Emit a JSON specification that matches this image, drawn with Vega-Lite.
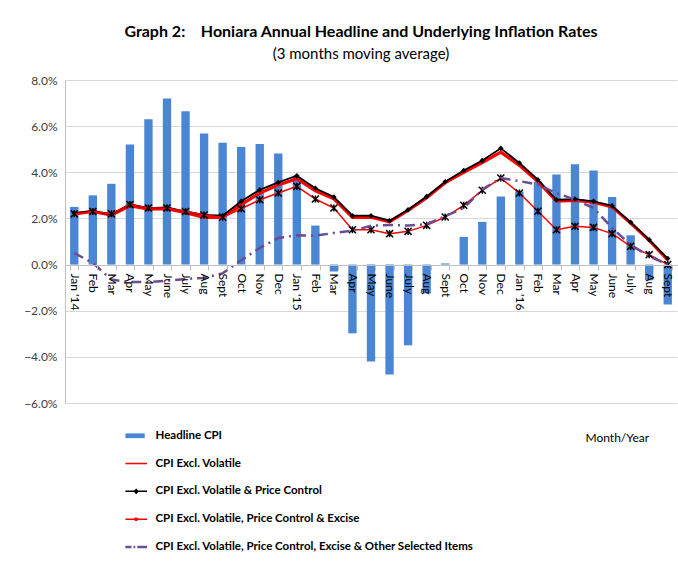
{
  "$schema": "https://vega.github.io/schema/vega-lite/v6.json",
  "width": 612,
  "height": 323,
  "autosize": "none",
  "padding": {"left": 65, "top": 80, "right": 1, "bottom": 164},
  "background": "white",
  "title": {
    "text": "Graph 2:\u00a0\u00a0\u00a0\u00a0Honiara Annual Headline and Underlying Inflation Rates",
    "subtitle": "(3 months moving average)",
    "anchor": "middle",
    "dx": -10,
    "offset": 12,
    "font": "Lato",
    "fontSize": 16,
    "fontWeight": "bold",
    "color": "#000000",
    "subtitleFont": "Lato",
    "subtitleFontSize": 15,
    "subtitleColor": "#000000",
    "subtitlePadding": 7
  },
  "config": {
    "view": {"stroke": null},
    "axis": {"labelFont": "Lato", "titleFont": "Lato"}
  },
  "data": {
    "values": [
      {"m": "Jan '14", "h": 2.5, "v": 2.2, "pc": 2.23, "ex": 2.2, "o": 0.5},
      {"m": "Feb '14", "h": 3.0, "v": 2.3, "pc": 2.33, "ex": 2.3, "o": 0.07},
      {"m": "Mar '14", "h": 3.5, "v": 2.15, "pc": 2.18, "ex": 2.2, "o": -0.65},
      {"m": "Apr '14", "h": 5.2, "v": 2.55, "pc": 2.62, "ex": 2.6, "o": -0.76},
      {"m": "May '14", "h": 6.3, "v": 2.4, "pc": 2.45, "ex": 2.45, "o": -0.76},
      {"m": "June '14", "h": 7.2, "v": 2.42, "pc": 2.48, "ex": 2.45, "o": -0.7},
      {"m": "July '14", "h": 6.65, "v": 2.25, "pc": 2.3, "ex": 2.3, "o": -0.62},
      {"m": "Aug '14", "h": 5.68, "v": 2.05, "pc": 2.15, "ex": 2.15, "o": -0.58},
      {"m": "Sept '14", "h": 5.28, "v": 2.05, "pc": 2.12, "ex": 2.05, "o": -0.38},
      {"m": "Oct '14", "h": 5.1, "v": 2.6, "pc": 2.74, "ex": 2.42, "o": 0.19},
      {"m": "Nov '14", "h": 5.23, "v": 3.1, "pc": 3.24, "ex": 2.81, "o": 0.72},
      {"m": "Dec '14", "h": 4.81, "v": 3.45, "pc": 3.56, "ex": 3.1, "o": 1.15},
      {"m": "Jan '15", "h": 3.8, "v": 3.72, "pc": 3.85, "ex": 3.39, "o": 1.27},
      {"m": "Feb '15", "h": 1.69, "v": 3.2, "pc": 3.31, "ex": 2.84, "o": 1.25},
      {"m": "Mar '15", "h": -0.3, "v": 2.85, "pc": 2.93, "ex": 2.45, "o": 1.37},
      {"m": "Apr '15", "h": -2.98, "v": 2.05, "pc": 2.12, "ex": 1.51, "o": 1.47},
      {"m": "May '15", "h": -4.2, "v": 2.05, "pc": 2.12, "ex": 1.51, "o": 1.68},
      {"m": "June '15", "h": -4.77, "v": 1.85, "pc": 1.9, "ex": 1.34, "o": 1.72},
      {"m": "July '15", "h": -3.5, "v": 2.35, "pc": 2.38, "ex": 1.44, "o": 1.69},
      {"m": "Aug '15", "h": -1.25, "v": 2.9, "pc": 2.95, "ex": 1.7, "o": 1.75},
      {"m": "Sept '15", "h": 0.05, "v": 3.55, "pc": 3.59, "ex": 2.06, "o": 2.1},
      {"m": "Oct '15", "h": 1.2, "v": 4.0, "pc": 4.08, "ex": 2.57, "o": 2.45},
      {"m": "Nov '15", "h": 1.85, "v": 4.42, "pc": 4.51, "ex": 3.22, "o": 3.25},
      {"m": "Dec '15", "h": 2.95, "v": 4.87, "pc": 5.04, "ex": 3.75, "o": 3.75},
      {"m": "Jan '16", "h": 3.17, "v": 4.3, "pc": 4.4, "ex": 3.1, "o": 3.62},
      {"m": "Feb '16", "h": 3.6, "v": 3.6, "pc": 3.68, "ex": 2.31, "o": 3.46},
      {"m": "Mar '16", "h": 3.9, "v": 2.75, "pc": 2.81, "ex": 1.51, "o": 3.1},
      {"m": "Apr '16", "h": 4.35, "v": 2.78, "pc": 2.84, "ex": 1.66, "o": 2.81},
      {"m": "May '16", "h": 4.08, "v": 2.7, "pc": 2.74, "ex": 1.61, "o": 2.45},
      {"m": "June '16", "h": 2.93, "v": 2.5, "pc": 2.55, "ex": 1.34, "o": 1.59},
      {"m": "July '16", "h": 1.27, "v": 1.8, "pc": 1.83, "ex": 0.79, "o": 0.86},
      {"m": "Aug '16", "h": -0.68, "v": 1.05, "pc": 1.08, "ex": 0.43, "o": 0.36},
      {"m": "Sept '16", "h": -1.73, "v": 0.2, "pc": 0.26, "ex": 0.0, "o": 0.0}
    ]
  },
  "encoding": {
    "x": {
      "field": "m",
      "type": "ordinal",
      "sort": null,
      "scale": {"paddingInner": 0.55, "paddingOuter": 0.275},
      "axis": {
        "offset": -138,
        "zindex": 1,
        "labelAngle": 90,
        "labelExpr": "indexof(datum.label, 'Jan') == 0 ? datum.label : split(datum.label, ' ')[0]",
        "labelFontSize": 12,
        "labelColor": "#000000",
        "labelPadding": 3,
        "tickBand": "extent",
        "tickSize": 5,
        "tickColor": "#bfbfbf",
        "domainColor": "#bfbfbf",
        "title": "Month/Year",
        "titleX": 520,
        "titleY": 172,
        "titleAlign": "left",
        "titleBaseline": "middle",
        "titleFontSize": 12,
        "titleFontWeight": "normal",
        "titleColor": "#000000"
      }
    }
  },
  "layer": [
    {
      "mark": {"type": "bar", "color": "#4A86D4"},
      "encoding": {
        "y": {
          "field": "h",
          "type": "quantitative",
          "scale": {"domain": [-6, 8], "nice": false},
          "axis": {
            "values": [-6, -4, -2, 0, 2, 4, 6, 8],
            "labelExpr": "format(datum.value, '.1f') + '%'",
            "labelFontSize": 12,
            "labelColor": "#404040",
            "labelPadding": 8,
            "ticks": false,
            "domainColor": "#bfbfbf",
            "gridColor": "#d9d9d9",
            "title": null
          }
        },
        "color": {
          "datum": "Headline CPI",
          "scale": {
            "domain": [
              "Headline CPI",
              "CPI Excl. Volatile",
              "CPI Excl. Volatile & Price Control",
              "CPI Excl. Volatile, Price Control & Excise",
              "CPI Excl. Volatile, Price Control, Excise & Other Selected Items"
            ],
            "range": ["#4A86D4", "#FF0000", "#000000", "#FF0000", "#6A4C93"]
          },
          "legend": {
            "orient": "none",
            "legendX": 60,
            "legendY": 350,
            "direction": "vertical",
            "title": null,
            "symbolSize": 784,
            "rowPadding": 14.8,
            "labelLimit": 0,
            "labelFont": "Lato",
            "labelFontSize": 11.5,
            "labelFontWeight": "bold",
            "labelColor": "#000000",
            "labelOffset": 19,
            "encode": {
              "symbols": {
                "update": {
                  "size": {"value": 784},
                  "shape": {"signal": "datum.value == 'Headline CPI' ? 'M-0.38,-0.17H1.0V0.17H-0.38Z' : datum.value == 'CPI Excl. Volatile' ? 'M-0.38,0H1.16' : datum.value == 'CPI Excl. Volatile & Price Control' ? 'M-0.38,0H1.16M0.39,-0.13L0.52,0L0.39,0.13L0.26,0Z' : datum.value == 'CPI Excl. Volatile, Price Control & Excise' ? 'M-0.38,0H1.16M0.29,-0.1L0.49,0.1M0.29,0.1L0.49,-0.1' : 'M-0.38,0H0.05M0.2,0H0.32M0.47,0H1.16'"},
                  "fill": {"scale": "color", "field": "value"},
                  "stroke": {"scale": "color", "field": "value"},
                  "fillOpacity": {"value": 1},
                  "strokeDash": {"value": []},
                  "strokeWidth": {"signal": "datum.value == 'Headline CPI' ? 0 : datum.value == 'CPI Excl. Volatile, Price Control, Excise & Other Selected Items' ? 2.5 : 1.5"}
                }
              }
            }
          }
        }
      }
    },
    {
      "mark": {"type": "line", "strokeWidth": 3.2},
      "encoding": {
        "y": {"field": "v", "type": "quantitative"},
        "color": {"datum": "CPI Excl. Volatile"}
      }
    },
    {
      "mark": {"type": "line", "strokeWidth": 1.8, "point": {"shape": "diamond", "size": 30, "filled": true, "color": "#000000"}},
      "encoding": {
        "y": {"field": "pc", "type": "quantitative"},
        "color": {"datum": "CPI Excl. Volatile & Price Control"}
      }
    },
    {
      "mark": {"type": "line", "strokeWidth": 1.5},
      "encoding": {
        "y": {"field": "ex", "type": "quantitative"},
        "color": {"datum": "CPI Excl. Volatile, Price Control & Excise"}
      }
    },
    {
      "mark": {"type": "point", "shape": "M-1,-1L1,1M-1,1L1,-1M0,-1L0,1", "size": 50, "filled": false, "stroke": "#000000", "strokeWidth": 1.5, "opacity": 1},
      "encoding": {
        "y": {"field": "ex", "type": "quantitative"}
      }
    },
    {
      "mark": {"type": "line", "strokeWidth": 2.5, "strokeDash": [10, 5, 2, 5]},
      "encoding": {
        "y": {"field": "o", "type": "quantitative"},
        "color": {"datum": "CPI Excl. Volatile, Price Control, Excise & Other Selected Items"}
      }
    }
  ]
}
